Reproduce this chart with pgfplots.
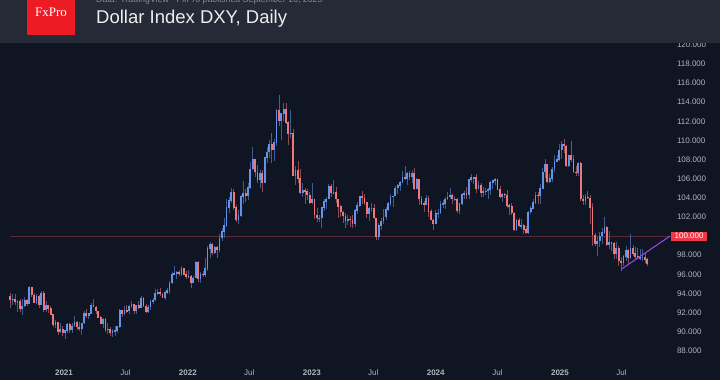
\documentclass[border=0pt]{standalone}
\usepackage{fontspec}
\setmainfont{Liberation Sans}
\newfontfamily\seriffont{Liberation Serif}
\usepackage{pgfplots}
\pgfplotsset{compat=1.18}
\usepackage{pgfplotstable}
\definecolor{bg}{HTML}{0F1522}
\definecolor{hdr}{HTML}{262936}
\definecolor{upc}{HTML}{6494EA}
\definecolor{dnc}{HTML}{EE777C}
\definecolor{tickc}{HTML}{B2B5BE}
\definecolor{lvl}{HTML}{5A2836}
\definecolor{trend}{HTML}{9B40EE}
\definecolor{logo}{HTML}{ED1C24}
\definecolor{lbl}{HTML}{F23645}
\definecolor{subc}{HTML}{8A8D98}

\pgfplotstableread{
i o h l c
0 93.7 94.1 92.5 93.35
1 93.35 93.9 92.8 93.4
2 93.4 93.9 92.8 93.1
3 93.1 93.3 92.1 93.2
4 93.2 93.4 92.1 92.4
5 92.4 93.4 91.75 92.7
6 92.7 93.6 92.6 93.3
7 93.3 93.4 92.7 92.9
8 92.9 94.75 92.9 94.6
9 94.6 94.7 93.6 93.85
10 93.85 94.0 93.0 93.05
11 93.05 93.9 92.9 93.7
12 93.7 93.8 92.5 92.8
13 92.8 94.3 92.8 94.05
14 94.05 94.3 92.1 92.25
15 92.25 93.2 92.1 92.75
16 92.75 92.8 92.0 92.4
17 92.4 92.7 91.7 91.8
18 91.8 91.9 90.5 90.7
19 90.7 91.2 90.4 90.95
20 90.95 91.0 89.7 90.0
21 90.0 90.9 89.9 90.25
22 90.25 90.6 89.6 89.9
23 89.9 90.2 89.2 90.1
24 90.1 90.9 89.9 90.8
25 90.8 90.9 89.9 90.25
26 90.25 90.9 89.9 90.6
27 90.6 91.6 90.5 91.0
28 91.0 91.1 90.2 90.5
29 90.5 91.0 90.1 90.35
30 90.35 90.9 89.7 90.9
31 90.9 92.2 90.8 91.95
32 91.95 92.4 91.4 91.65
33 91.65 92.0 91.3 91.9
34 91.9 93.0 91.8 92.8
35 92.8 93.4 92.6 92.6
36 92.6 92.7 91.9 92.15
37 92.15 92.2 91.5 91.5
38 91.5 91.6 90.8 90.85
39 90.85 91.4 90.4 91.3
40 91.3 91.4 89.98 90.2
41 90.2 90.9 89.8 90.3
42 90.3 90.5 89.6 89.9
43 89.9 90.3 89.5 90.0
44 90.0 90.6 89.5 90.15
45 90.15 90.6 89.9 90.55
46 90.55 92.4 90.4 92.2
47 92.2 92.2 91.5 91.85
48 91.85 92.7 91.8 92.25
49 92.25 92.8 92.0 92.15
50 92.15 92.8 91.9 92.7
51 92.7 93.2 92.5 92.9
52 92.9 92.9 91.8 92.2
53 92.2 92.8 91.9 92.8
54 92.8 93.2 92.4 92.5
55 92.5 93.7 92.5 93.5
56 93.5 93.6 92.6 92.7
57 92.7 92.9 91.95 92.05
58 92.05 92.8 92.0 92.6
59 92.6 93.3 92.3 93.2
60 93.2 93.5 92.9 93.3
61 93.3 94.5 93.2 94.05
62 94.05 94.5 93.8 94.1
63 94.1 94.6 93.7 93.95
64 93.95 94.0 93.5 93.6
65 93.6 94.3 93.3 94.1
66 94.1 94.6 93.9 94.3
67 94.3 95.3 93.9 95.1
68 95.1 96.2 95.0 96.05
69 96.05 96.9 95.9 96.1
70 96.1 96.4 95.5 96.2
71 96.2 96.5 95.8 96.1
72 96.1 96.9 95.8 96.6
73 96.6 96.7 95.9 96.0
74 96.0 96.4 95.5 95.7
75 95.7 96.5 95.6 95.75
76 95.75 95.9 94.6 95.15
77 95.15 95.8 95.1 95.6
78 95.6 97.4 95.6 97.3
79 97.3 97.4 95.2 95.5
80 95.5 96.2 95.1 96.05
81 96.05 96.4 95.7 96.0
82 96.0 97.7 95.7 96.6
83 96.6 99.0 96.4 98.7
84 98.7 99.4 97.7 99.1
85 99.1 99.3 98.0 98.25
86 98.25 99.0 98.1 98.8
87 98.8 99.0 97.7 98.6
88 98.6 100.2 98.3 99.8
89 99.8 100.8 99.5 100.5
90 100.5 101.9 99.8 101.1
91 101.1 103.9 101.0 103.0
92 103.0 104.1 102.4 103.7
93 103.7 105.0 103.5 104.6
94 104.6 104.9 102.7 103.0
95 103.0 103.2 101.5 101.7
96 101.7 102.7 101.3 102.15
97 102.15 104.3 102.0 104.15
98 104.15 105.8 103.4 104.5
99 104.5 104.9 103.6 104.2
100 104.2 105.5 103.8 105.1
101 105.1 107.8 104.9 107.0
102 107.0 109.3 106.9 108.0
103 108.0 108.1 106.2 106.7
104 106.7 107.4 105.5 105.9
105 105.9 106.9 105.0 106.6
106 106.6 106.9 104.6 105.6
107 105.6 108.2 105.5 108.2
108 108.2 109.3 107.6 108.8
109 108.8 110.0 108.2 109.6
110 109.6 110.8 107.6 109.0
111 109.0 110.2 107.9 109.8
112 109.8 113.3 109.4 113.2
113 113.2 114.8 111.5 112.1
114 112.1 112.8 110.0 112.8
115 112.8 113.9 112.0 113.3
116 113.3 113.9 111.7 111.9
117 111.9 112.0 109.5 110.75
118 110.75 113.2 110.3 110.8
119 110.8 111.2 106.3 106.3
120 106.3 107.3 105.3 106.9
121 106.9 107.9 105.6 106.0
122 106.0 107.0 104.4 104.5
123 104.5 105.6 104.1 104.8
124 104.8 105.0 103.4 104.7
125 104.7 104.9 103.8 104.3
126 104.3 104.6 103.4 103.5
127 103.5 105.6 103.4 103.9
128 103.9 103.9 101.8 102.2
129 102.2 102.9 101.5 101.9
130 101.9 102.2 101.5 101.9
131 101.9 103.0 100.8 103.0
132 103.0 103.9 102.6 103.6
133 103.6 104.1 102.8 103.9
134 103.9 105.4 103.9 105.2
135 105.2 105.4 104.1 104.5
136 104.5 105.9 104.4 104.6
137 104.6 105.1 103.5 103.9
138 103.9 103.9 101.9 103.1
139 103.1 103.3 102.0 102.5
140 102.5 102.6 101.4 102.1
141 102.1 102.4 100.8 101.6
142 101.6 102.2 101.2 101.8
143 101.8 102.1 101.0 101.7
144 101.7 102.2 100.8 101.3
145 101.3 102.8 101.0 102.7
146 102.7 103.6 102.3 103.2
147 103.2 104.2 103.0 104.2
148 104.2 104.7 103.4 104.0
149 104.0 104.4 103.3 103.5
150 103.5 103.6 101.9 102.3
151 102.3 103.0 101.6 102.9
152 102.9 103.5 102.5 102.9
153 102.9 103.4 101.8 101.9
154 101.9 101.9 99.6 99.9
155 99.9 101.4 99.6 101.1
156 101.1 101.9 100.6 101.6
157 101.6 102.8 101.3 102.0
158 102.0 103.0 101.7 102.8
159 102.8 103.6 102.6 103.4
160 103.4 104.4 103.1 104.1
161 104.1 104.2 103.0 104.2
162 104.2 105.2 104.2 105.05
163 105.05 105.4 104.4 105.3
164 105.3 105.8 104.7 105.6
165 105.6 106.8 105.6 106.2
166 106.2 107.3 105.9 106.0
167 106.0 106.7 105.3 106.6
168 106.6 106.8 105.9 106.2
169 106.2 106.9 105.6 106.6
170 106.6 107.1 104.8 105.0
171 105.0 106.1 104.9 105.9
172 105.9 105.9 103.2 103.9
173 103.9 104.2 103.2 103.4
174 103.4 103.7 102.5 103.3
175 103.3 104.3 103.2 104.0
176 104.0 104.2 102.0 102.6
177 102.6 102.8 101.7 101.7
178 101.7 101.8 100.6 101.3
179 101.3 102.7 101.3 102.4
180 102.4 102.8 101.9 102.4
181 102.4 103.7 102.3 103.3
182 103.3 103.8 102.9 103.4
183 103.4 104.1 102.8 103.9
184 103.9 104.6 103.8 104.1
185 104.1 105.0 103.9 104.3
186 104.3 104.4 103.4 103.9
187 103.9 104.2 103.7 103.9
188 103.9 104.0 102.4 102.7
189 102.7 103.5 102.3 103.4
190 103.4 104.5 103.2 104.4
191 104.4 104.7 103.9 104.5
192 104.5 105.1 103.9 104.3
193 104.3 105.8 103.9 105.9
194 105.9 106.5 105.7 106.1
195 106.1 106.2 105.4 106.1
196 106.1 106.5 104.5 105.0
197 105.0 105.8 104.9 105.3
198 105.3 105.5 104.1 104.5
199 104.5 105.1 104.1 104.7
200 104.7 105.0 104.3 104.7
201 104.7 105.0 103.9 104.9
202 104.9 105.8 104.3 105.6
203 105.6 105.9 104.9 105.8
204 105.8 106.1 105.3 105.9
205 105.9 106.0 104.8 104.9
206 104.9 105.2 104.0 104.1
207 104.1 104.5 103.6 104.4
208 104.4 104.5 104.0 104.3
209 104.3 104.8 102.9 103.2
210 103.2 103.4 102.2 103.1
211 103.1 103.5 102.2 102.4
212 102.4 102.5 100.5 100.7
213 100.7 101.8 100.5 101.7
214 101.7 101.9 100.9 101.1
215 101.1 101.8 100.7 101.1
216 101.1 101.3 100.2 100.7
217 100.7 101.1 100.2 100.4
218 100.4 102.6 100.2 102.5
219 102.5 103.1 102.3 102.9
220 102.9 103.9 102.9 103.5
221 103.5 104.6 103.4 104.3
222 104.3 104.6 103.4 104.2
223 104.2 105.4 103.4 105.0
224 105.0 107.1 104.9 106.7
225 106.7 108.1 106.1 107.5
226 107.5 107.5 105.6 105.7
227 105.7 106.5 105.5 106.0
228 106.0 107.2 105.7 107.0
229 107.0 108.5 106.7 107.8
230 107.8 108.5 107.7 108.0
231 108.0 109.6 107.9 109.0
232 109.0 109.9 108.1 109.6
233 109.6 110.2 108.7 109.4
234 109.4 109.5 107.2 107.4
235 107.4 108.5 107.2 108.4
236 108.4 109.9 107.7 108.0
237 108.0 108.5 106.6 106.7
238 106.7 107.3 106.3 106.6
239 106.6 107.7 106.3 107.6
240 107.6 107.7 103.7 103.9
241 103.9 104.3 103.2 103.7
242 103.7 104.4 103.2 104.1
243 104.1 104.7 103.9 104.0
244 104.0 104.3 101.3 103.0
245 103.0 103.5 99.0 100.1
246 100.1 100.3 99.0 99.2
247 99.2 99.9 97.9 99.5
248 99.5 100.4 98.9 100.0
249 100.0 100.8 99.2 100.4
250 100.4 101.98 100.2 100.9
251 100.9 101.1 99.0 99.1
252 99.1 100.5 98.7 99.3
253 99.3 99.4 98.4 99.2
254 99.2 99.4 97.6 98.2
255 98.2 99.4 97.6 98.7
256 98.7 99.0 96.9 97.4
257 97.4 97.8 96.4 97.2
258 97.2 98.0 96.9 97.85
259 97.85 98.95 97.4 98.5
260 98.5 98.6 97.1 97.7
261 97.7 100.25 97.6 98.7
262 98.7 99.1 97.9 98.2
263 98.2 98.9 97.6 97.85
264 97.85 98.8 97.6 97.7
265 97.7 98.6 97.5 97.8
266 97.8 98.7 97.4 97.8
267 97.8 98.2 97.2 97.55
268 97.55 97.7 96.9 97.1
}\dxy

\pgfplotsset{
  candle/.style 2 args={draw=none, mark=none, forget plot, unbounded coords=discard,
    error bars/.cd, y dir=both, y explicit, error mark=none,
    error bar style={line width=#1, draw=#2, solid}},
}

\begin{document}
\begin{tikzpicture}[x=1pt,y=1pt]
\useasboundingbox (0,0) rectangle (720,380);
\fill[bg] (0,0) rectangle (720,380);
\begin{axis}[
  at={(0,20)}, anchor=south west, scale only axis,
  width=665pt, height=317pt,
  xmin=-4.36, xmax=275.5, ymin=86.95, ymax=120.1,
  clip=false,
  axis line style={draw=none},
  major tick length=0pt, tick style={draw=none},
  xtick={22.571,48.43,74.71,100.57,126.86,152.71,179.0,205.0,231.29,257.14},
  xticklabels={\textbf{2021},Jul,\textbf{2022},Jul,\textbf{2023},Jul,\textbf{2024},Jul,\textbf{2025},Jul},
  xticklabel style={font=\fontsize{8}{9}\selectfont, text=tickc, anchor=center, yshift=-12pt},
  ytick={88,90,92,94,96,98,102,104,106,108,110,112,114,116,118,120},
  yticklabel pos=right,
  yticklabel style={font=\fontsize{8}{9}\selectfont, text=tickc, anchor=west, xshift=8.5pt,
    /pgf/number format/.cd, fixed, fixed zerofill, precision=3, 1000 sep={}, assume math mode=true},
]
\addplot[lvl, line width=0.55pt, forget plot] coordinates {(0,100) (278,100)};
% wicks
\addplot[candle={0.6pt}{upc!55!bg}]
  table[x=i, y expr={(\thisrow{h}+\thisrow{l})/2}, y error expr={(\thisrow{h}-\thisrow{l})/2},
  restrict expr to domain={\thisrow{c}-\thisrow{o}}{0:100}] {\dxy};
\addplot[candle={0.6pt}{dnc!55!bg}]
  table[x=i, y expr={(\thisrow{h}+\thisrow{l})/2}, y error expr={(\thisrow{h}-\thisrow{l})/2},
  restrict expr to domain={\thisrow{o}-\thisrow{c}}{0.0001:100}] {\dxy};
% bodies
\addplot[candle={1.8pt}{upc}]
  table[x=i, y expr={(\thisrow{o}+\thisrow{c})/2}, y error expr={abs(\thisrow{c}-\thisrow{o})/2+0.03},
  restrict expr to domain={\thisrow{c}-\thisrow{o}}{0:100}] {\dxy};
\addplot[candle={1.8pt}{dnc}]
  table[x=i, y expr={(\thisrow{o}+\thisrow{c})/2}, y error expr={abs(\thisrow{c}-\thisrow{o})/2+0.03},
  restrict expr to domain={\thisrow{o}-\thisrow{c}}{0.0001:100}] {\dxy};
% trend line
\addplot[trend, line width=1.1pt, forget plot] coordinates {(257.2,96.55) (277.6,100.0)};
\node[fill=lbl, text=white, font=\fontsize{8}{9}\selectfont, inner xsep=3.5pt, inner ysep=1.6pt, anchor=west] at (axis cs:278,100) {100.000};
\end{axis}
% header
\fill[hdr] (0,337) rectangle (720,380);
\fill[logo] (27,345) rectangle (75,380);
\node[text=white, font=\seriffont\fontsize{13}{14}\selectfont] at (51,367.5) {FxPro};
\node[anchor=base west, inner sep=0pt, text=white!92!hdr, font=\fontsize{18.5}{20}\selectfont] at (96,356) {Dollar Index DXY, Daily};
\begin{scope}
\clip (0,0) rectangle (720,380);
\node[anchor=base west, inner sep=0pt, text=subc, font=\fontsize{8.8}{10}\selectfont] at (96,377.3) {Data: TradingView · FxPro published September 16, 2025};
\end{scope}
\end{tikzpicture}
\end{document}
